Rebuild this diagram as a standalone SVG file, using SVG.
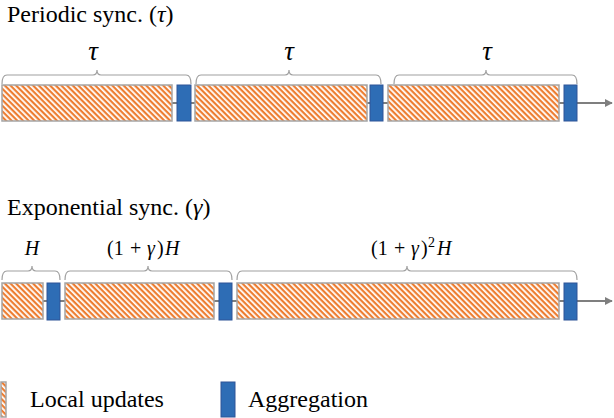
<svg xmlns="http://www.w3.org/2000/svg" width="614" height="418" viewBox="0 0 614 418">
<defs>
<pattern id="hatch" width="4" height="4" patternUnits="userSpaceOnUse" patternTransform="rotate(45)">
<rect width="4" height="4" fill="#ffffff"/>
<rect width="4" height="2.2" fill="#ED7D31"/>
</pattern>
<marker id="arr" viewBox="0 0 10 10" refX="9" refY="5" markerWidth="4" markerHeight="4" orient="auto">
<path d="M0,0 L10,5 L0,10 z" fill="#7F7F7F"/>
</marker>
<style>
.loc{fill:url(#hatch);stroke:#A5A5A5;stroke-width:1.5}
.agg{fill:#2E6DB5;stroke:#2F5597;stroke-width:1}
.axis{stroke:#7F7F7F;stroke-width:2;fill:none}
.brace{stroke:#A0A0A0;stroke-width:1.2;fill:none}
</style>
</defs>
<text x="7" y="22" font-family="Liberation Serif" font-size="24">Periodic sync. (<tspan font-style="italic">τ</tspan>)</text>
<text x="7" y="215" font-family="Liberation Serif" font-size="24">Exponential sync. (<tspan font-style="italic">γ</tspan>)</text>
<g id="connectors">
<line class="axis" x1="2" y1="103" x2="612" y2="103" marker-end="url(#arr)"/>
<line class="axis" x1="2" y1="301" x2="612" y2="301" marker-end="url(#arr)"/>
</g>
<g id="row1">
<g id="p1"><rect class="loc" x="2" y="85" width="170" height="36"/></g>
<g id="a1"><rect class="agg" x="177" y="85" width="14" height="36"/></g>
<g id="p2"><rect class="loc" x="195" y="85" width="172" height="36"/></g>
<g id="a2"><rect class="agg" x="370" y="85" width="13" height="36"/></g>
<g id="p3"><rect class="loc" x="388" y="85" width="171" height="36"/></g>
<g id="a3"><rect class="agg" x="564" y="85" width="13" height="36"/></g>
<path class="brace" d="M2,84 Q2,75 7,75 L93,75 Q97,75 97,70 Q97,75 101,75 L186,75 Q191,75 191,84"/>
<path class="brace" d="M196,84 Q196,75 201,75 L285,75 Q289,75 289,70 Q289,75 293,75 L376,75 Q381,75 381,84"/>
<path class="brace" d="M394,84 Q394,75 399,75 L482,75 Q486,75 486,70 Q486,75 490,75 L572,75 Q577,75 577,84"/>
<text x="93" y="60" text-anchor="middle" style="font-family:'Liberation Serif',serif;font-style:italic;font-size:27px;fill:#000">τ</text>
<text x="289" y="60" text-anchor="middle" style="font-family:'Liberation Serif',serif;font-style:italic;font-size:27px;fill:#000">τ</text>
<text x="487" y="60" text-anchor="middle" style="font-family:'Liberation Serif',serif;font-style:italic;font-size:27px;fill:#000">τ</text>
</g>
<g id="row2">
<g id="e1"><rect class="loc" x="2" y="283" width="41" height="36"/></g>
<g id="b1"><rect class="agg" x="47" y="283" width="13" height="37"/></g>
<g id="e2"><rect class="loc" x="65" y="283" width="149" height="36"/></g>
<g id="b2"><rect class="agg" x="219" y="283" width="13" height="37"/></g>
<g id="e3"><rect class="loc" x="237" y="283" width="322" height="36"/></g>
<g id="b3"><rect class="agg" x="564" y="283" width="13" height="37"/></g>
<path class="brace" d="M2,280 Q2,271 7,271 L28,271 Q32,271 32,266 Q32,271 36,271 L55,271 Q60,271 60,280"/>
<path class="brace" d="M65,280 Q65,271 70,271 L144,271 Q148,271 148,266 Q148,271 152,271 L227,271 Q232,271 232,280"/>
<path class="brace" d="M237,280 Q237,271 242,271 L403,271 Q407,271 407,266 Q407,271 411,271 L572,271 Q577,271 577,280"/>
<text x="32" y="255" text-anchor="middle" style="font-family:'Liberation Serif',serif;font-style:italic;font-size:20px;fill:#000">H</text>
<text y="255" style="font-family:'Liberation Serif',serif;font-size:20px;fill:#000"><tspan x="107">(1</tspan><tspan x="130">+</tspan><tspan x="147" style="font-style:italic">γ</tspan><tspan x="157">)</tspan><tspan x="165" style="font-style:italic">H</tspan></text>
<text y="255" style="font-family:'Liberation Serif',serif;font-size:20px;fill:#000"><tspan x="371">(1</tspan><tspan x="394">+</tspan><tspan x="411" style="font-style:italic">γ</tspan><tspan x="421">)</tspan><tspan x="428" y="247" style="font-size:14px">2</tspan><tspan x="437" y="255" style="font-style:italic">H</tspan></text>
</g>
<g id="legend">
<rect class="loc" x="1" y="382" width="5" height="35"/>
<text x="30" y="407" font-family="Liberation Serif" font-size="24">Local updates</text>
<rect class="agg" x="221" y="382" width="14" height="35"/>
<text x="248" y="407" font-family="Liberation Serif" font-size="24">Aggregation</text>
</g>
</svg>
